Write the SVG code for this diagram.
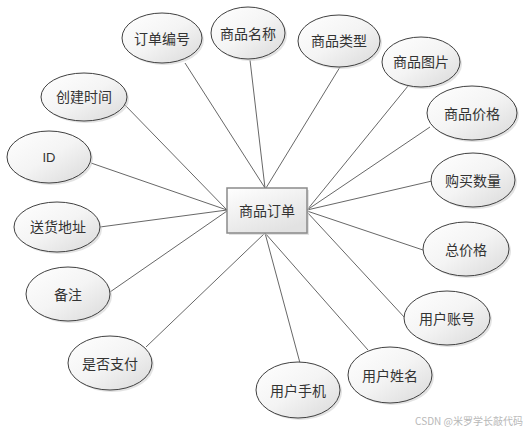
<svg xmlns="http://www.w3.org/2000/svg" width="527" height="434" viewBox="0 0 527 434">
<defs>
<linearGradient id="eg" x1="0" y1="0" x2="1" y2="1">
<stop offset="0" stop-color="#ffffff"/>
<stop offset="0.5" stop-color="#f4f4f4"/>
<stop offset="1" stop-color="#d9d9d9"/>
</linearGradient>
<linearGradient id="rg" x1="0" y1="0" x2="0.6" y2="1">
<stop offset="0" stop-color="#ffffff"/>
<stop offset="1" stop-color="#e2e2e2"/>
</linearGradient>
</defs>
<style>
.e{fill:url(#eg);stroke:#404040;stroke-width:1}
.s{fill:#d0d0d0;opacity:0.6}
.t{font-family:"Noto Sans CJK SC","Liberation Sans",sans-serif;font-size:14px;fill:#333;text-anchor:middle;dominant-baseline:central}
.c line{stroke:#404040;stroke-width:0.8}
</style>
<rect width="527" height="434" fill="#fff"/>
<g class="c" id="connectors">
<line x1="185" y1="63" x2="265" y2="188"/>
<line x1="250" y1="60" x2="265" y2="188"/>
<line x1="340" y1="67" x2="266" y2="188"/>
<line x1="408" y1="86" x2="307" y2="210"/>
<line x1="430" y1="127" x2="307" y2="210"/>
<line x1="432" y1="181" x2="307" y2="210"/>
<line x1="423" y1="250" x2="307" y2="211"/>
<line x1="405" y1="318" x2="307" y2="212"/>
<line x1="368" y1="350" x2="265" y2="233"/>
<line x1="300" y1="363" x2="265" y2="233"/>
<line x1="146" y1="347" x2="265" y2="233"/>
<line x1="110" y1="292" x2="227" y2="211"/>
<line x1="100" y1="227" x2="227" y2="210"/>
<line x1="91" y1="163" x2="227" y2="210"/>
<line x1="123" y1="103" x2="227" y2="210"/>
</g>
<g id="center">
<rect x="229" y="190" width="80" height="45" fill="#cfcfcf" opacity="0.6"/>
<rect x="227" y="188" width="80" height="45" fill="url(#rg)" stroke="#8a8a8a" stroke-width="1.5"/>
<text class="t" x="267" y="210">商品订单</text>
</g>
<g id="n1"><ellipse class="s" cx="164" cy="40" rx="40" ry="25"/><ellipse class="e" cx="162" cy="38" rx="40" ry="25"/><text class="t" x="162" y="38">订单编号</text></g>
<g id="n2"><ellipse class="s" cx="250" cy="35" rx="37" ry="26"/><ellipse class="e" cx="248" cy="33" rx="37" ry="26"/><text class="t" x="248" y="33">商品名称</text></g>
<g id="n3"><ellipse class="s" cx="341" cy="43" rx="41" ry="26"/><ellipse class="e" cx="339" cy="41" rx="41" ry="26"/><text class="t" x="339" y="40">商品类型</text></g>
<g id="n4"><ellipse class="s" cx="423" cy="64" rx="39" ry="25"/><ellipse class="e" cx="421" cy="62" rx="39" ry="25"/><text class="t" x="421" y="61">商品图片</text></g>
<g id="n5"><ellipse class="s" cx="474" cy="115" rx="45" ry="27"/><ellipse class="e" cx="472" cy="113" rx="45" ry="27"/><text class="t" x="472" y="113">商品价格</text></g>
<g id="n6"><ellipse class="s" cx="475" cy="182" rx="42" ry="27"/><ellipse class="e" cx="473" cy="180" rx="42" ry="27"/><text class="t" x="473" y="180">购买数量</text></g>
<g id="n7"><ellipse class="s" cx="468" cy="251" rx="43" ry="27"/><ellipse class="e" cx="466" cy="249" rx="43" ry="27"/><text class="t" x="466" y="249">总价格</text></g>
<g id="n8"><ellipse class="s" cx="449" cy="320" rx="43" ry="27"/><ellipse class="e" cx="447" cy="318" rx="43" ry="27"/><text class="t" x="447" y="318">用户账号</text></g>
<g id="n9"><ellipse class="s" cx="392" cy="377" rx="42" ry="28"/><ellipse class="e" cx="390" cy="375" rx="42" ry="28"/><text class="t" x="390" y="375">用户姓名</text></g>
<g id="n10"><ellipse class="s" cx="300" cy="392" rx="42" ry="28"/><ellipse class="e" cx="298" cy="390" rx="42" ry="28"/><text class="t" x="298" y="390">用户手机</text></g>
<g id="n11"><ellipse class="s" cx="112" cy="365" rx="42" ry="27"/><ellipse class="e" cx="110" cy="363" rx="42" ry="27"/><text class="t" x="110" y="363">是否支付</text></g>
<g id="n12"><ellipse class="s" cx="70" cy="296" rx="42" ry="27"/><ellipse class="e" cx="68" cy="294" rx="42" ry="27"/><text class="t" x="68" y="294">备注</text></g>
<g id="n13"><ellipse class="s" cx="59" cy="229" rx="43" ry="25"/><ellipse class="e" cx="57" cy="227" rx="43" ry="25"/><text class="t" x="58" y="226">送货地址</text></g>
<g id="n14"><ellipse class="s" cx="51" cy="159" rx="42" ry="26"/><ellipse class="e" cx="49" cy="157" rx="42" ry="26"/><text class="t" x="49" y="157" style="font-family:'Liberation Sans',sans-serif;font-size:13px">ID</text></g>
<g id="n15"><ellipse class="s" cx="86" cy="99" rx="43" ry="24"/><ellipse class="e" cx="84" cy="97" rx="43" ry="24"/><text class="t" x="84" y="96">创建时间</text></g>
<text x="523" y="425" style="font-family:'Noto Sans CJK SC','Liberation Sans',sans-serif;font-size:10px;fill:#b8b8b8;text-anchor:end">CSDN @米罗学长敲代码</text>
</svg>
